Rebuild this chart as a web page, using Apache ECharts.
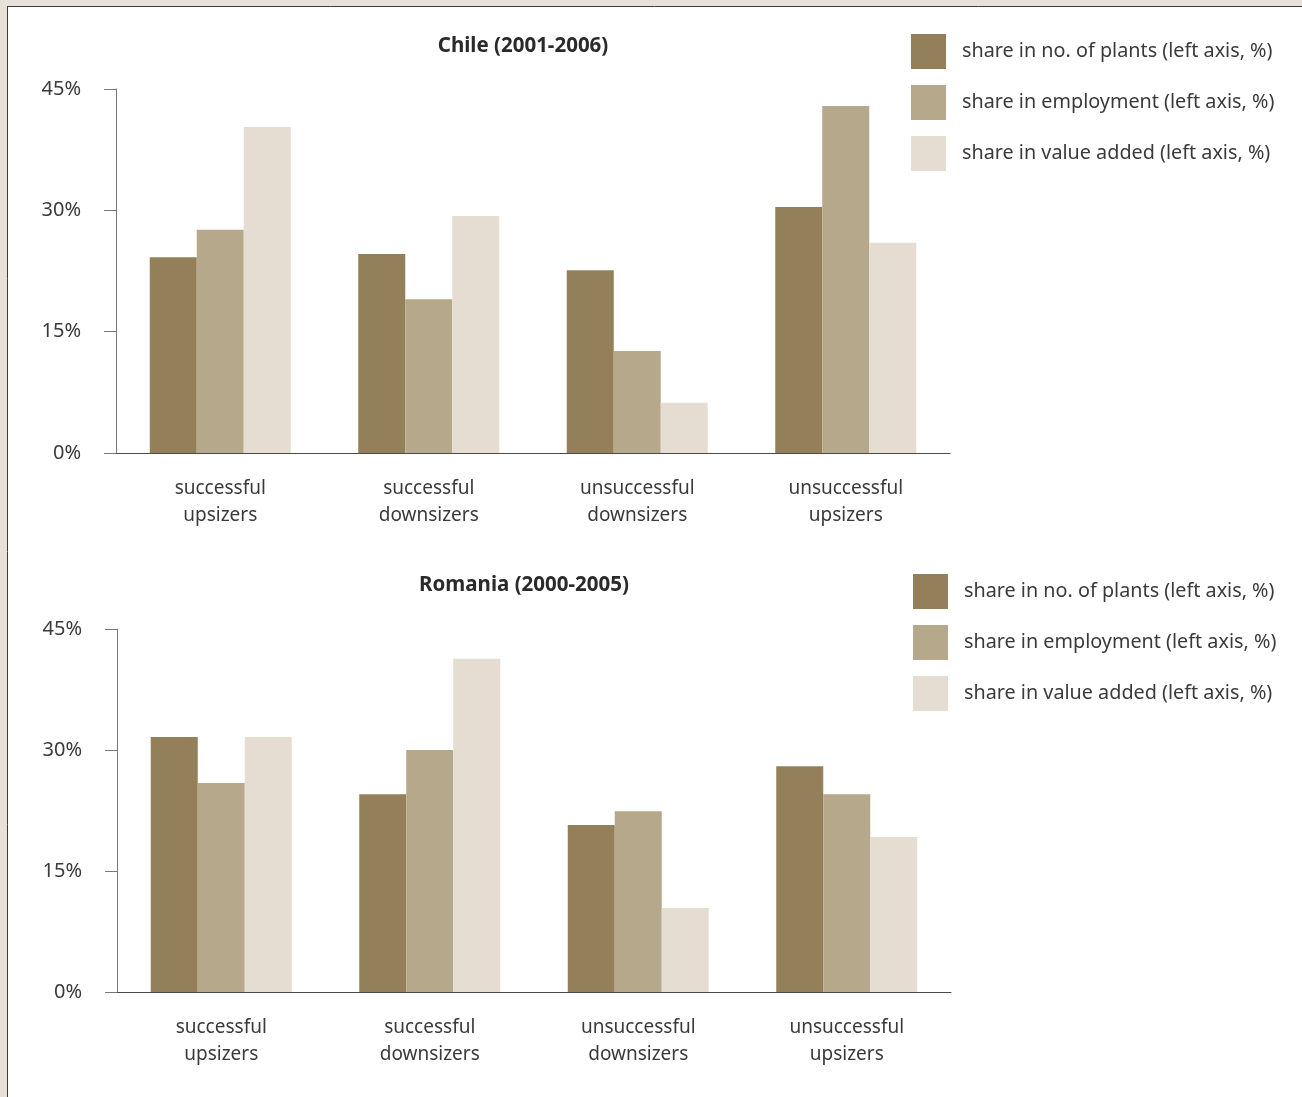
<!DOCTYPE html>
<html>
<head>
<meta charset="utf-8">
<script src="https://cdn.jsdelivr.net/npm/echarts@6/dist/echarts.min.js"></script>
<style>
html,body{margin:0;padding:0;background:#fff;}
#c{width:1302px;height:1097px;}
</style>
</head>
<body>
<div id="c"></div>
<script>
const categories = ['successful\nupsizers', 'successful\ndownsizers', 'unsuccessful\ndownsizers', 'unsuccessful\nupsizers'];
const seriesNames = ['share in no. of plants (left axis, %)', 'share in employment (left axis, %)', 'share in value added (left axis, %)'];
const chileTitle = 'Chile (2001-2006)';
const romaniaTitle = 'Romania (2000-2005)';
const chilePlants = [24.2, 24.6, 22.6, 30.4];
const chileEmployment = [27.6, 19.0, 12.6, 42.9];
const chileValueAdded = [40.3, 29.3, 6.2, 26.0];
const romaniaPlants = [31.6, 24.5, 20.7, 28.0];
const romaniaEmployment = [25.9, 30.0, 22.4, 24.5];
const romaniaValueAdded = [31.6, 41.3, 10.4, 19.2];
const yTicks = [0, 15, 30, 45];

const colors = ['#937f5a', '#b6a88a', '#e5ddd1'];
const FONT = 'Noto Sans';
const TXT = '#3a3a3a';

const chart = echarts.init(document.getElementById('c'), null, {renderer: 'canvas'});

function xAx(gi) {
  return {
    type: 'category', gridIndex: gi, data: categories,
    axisLine: {show: true, lineStyle: {color: '#4a4a4a', width: 1}},
    axisTick: {show: false},
    axisLabel: {fontFamily: FONT, fontSize: 19, color: TXT, lineHeight: 27, margin: 22, interval: 0}
  };
}
function yAx(gi) {
  return {
    type: 'value', gridIndex: gi, min: yTicks[0], max: yTicks[yTicks.length - 1], interval: 15,
    splitLine: {show: false},
    axisLine: {show: true, lineStyle: {color: '#777', width: 1}},
    axisTick: {show: true, length: 12, lineStyle: {color: '#777'}},
    axisLabel: {fontFamily: FONT, fontSize: 20, color: TXT, margin: 35, formatter: v => v + '%'}
  };
}
function bar(name, data, ci, gi) {
  return {
    type: 'bar', name: name, data: data, xAxisIndex: gi, yAxisIndex: gi,
    barWidth: 47, barGap: '0%',
    itemStyle: {color: colors[ci]},
    emphasis: {disabled: true}
  };
}
function legend(left, top) {
  return {
    orient: 'vertical', left: left, top: top, padding: 0,
    itemWidth: 35, itemHeight: 35, itemGap: 16, icon: 'rect',
    data: seriesNames, selectedMode: false,
    textStyle: {fontFamily: FONT, fontSize: 19.8, color: TXT, padding: [0, 0, 0, 11]}
  };
}

chart.setOption({
  animation: false,
  backgroundColor: '#fff',
  graphic: [
    {type: 'rect', shape: {x: 0, y: 0, width: 1302, height: 6}, style: {fill: '#e8e1d8'}},
    {type: 'rect', shape: {x: 0, y: 0, width: 7, height: 1097}, style: {fill: '#e8e1d8'}},
    {type: 'line', shape: {x1: 7, y1: 6.5, x2: 1302, y2: 6.5}, style: {stroke: '#3c3c3c', lineWidth: 1}},
    {type: 'line', shape: {x1: 7.5, y1: 6, x2: 7.5, y2: 1097}, style: {stroke: '#3c3c3c', lineWidth: 1}}
  ],
  title: [
    {text: chileTitle, left: 523, top: 36, textAlign: 'center', padding: 0,
     textStyle: {fontFamily: FONT, fontSize: 20.5, fontWeight: 'bold', color: '#2a2a2a'}},
    {text: romaniaTitle, left: 524, top: 575, textAlign: 'center', padding: 0,
     textStyle: {fontFamily: FONT, fontSize: 20.5, fontWeight: 'bold', color: '#2a2a2a'}}
  ],
  legend: [legend(911, 34), legend(913, 574)],
  grid: [
    {left: 116, top: 89, width: 834, height: 364, containLabel: false},
    {left: 117, top: 629, width: 834, height: 363, containLabel: false}
  ],
  xAxis: [xAx(0), xAx(1)],
  yAxis: [yAx(0), yAx(1)],
  series: [
    bar(seriesNames[0], chilePlants, 0, 0),
    bar(seriesNames[1], chileEmployment, 1, 0),
    bar(seriesNames[2], chileValueAdded, 2, 0),
    bar(seriesNames[0], romaniaPlants, 0, 1),
    bar(seriesNames[1], romaniaEmployment, 1, 1),
    bar(seriesNames[2], romaniaValueAdded, 2, 1)
  ]
});
</script>
</body>
</html>
